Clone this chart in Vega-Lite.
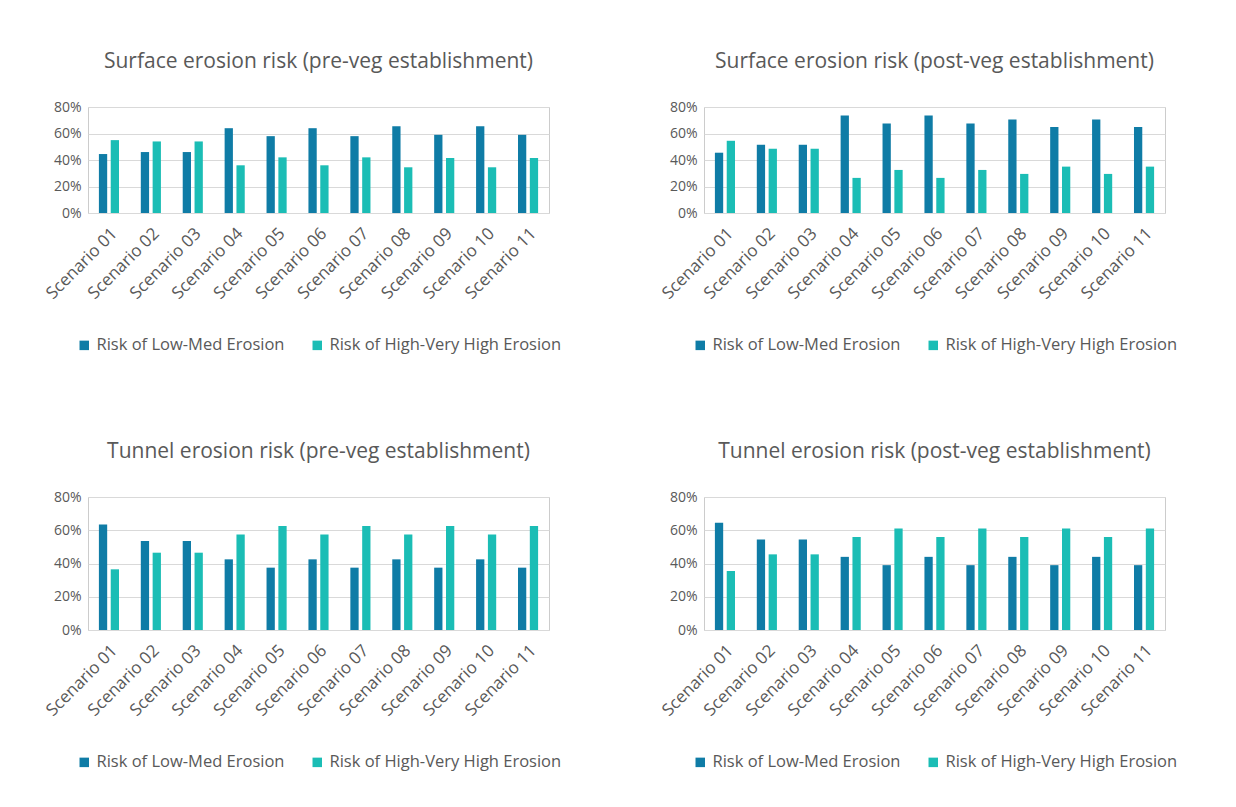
{
  "$schema": "https://vega.github.io/schema/vega-lite/v6.json",
  "background": "white",
  "padding": {"left": 42, "top": 50, "right": 0, "bottom": 0},
  "config": {
    "font": "Open Sans",
    "view": {"stroke": "#cccccc", "strokeWidth": 1},
    "axis": {"labelColor": "#595959", "labelFontSize": 14, "ticks": false, "domain": false, "title": null, "gridColor": "#d9d9d9", "gridWidth": 1},
    "title": {"fontSize": 21, "fontWeight": "normal", "color": "#595959", "offset": 28},
    "legend": {"labelColor": "#595959", "labelFontSize": 16.5, "symbolType": "square", "symbolSize": 90, "symbolStrokeWidth": 0, "columnPadding": 24, "labelLimit": 400, "layout": {"bottom": {"anchor": "middle"}}}
  },
  "datasets": {
    "d": [
      {"panel": "SP", "scenario": "Scenario 01", "series": "Risk of Low-Med Erosion", "value": 0.445},
      {"panel": "SP", "scenario": "Scenario 02", "series": "Risk of Low-Med Erosion", "value": 0.46},
      {"panel": "SP", "scenario": "Scenario 03", "series": "Risk of Low-Med Erosion", "value": 0.46},
      {"panel": "SP", "scenario": "Scenario 04", "series": "Risk of Low-Med Erosion", "value": 0.64},
      {"panel": "SP", "scenario": "Scenario 05", "series": "Risk of Low-Med Erosion", "value": 0.58},
      {"panel": "SP", "scenario": "Scenario 06", "series": "Risk of Low-Med Erosion", "value": 0.64},
      {"panel": "SP", "scenario": "Scenario 07", "series": "Risk of Low-Med Erosion", "value": 0.58},
      {"panel": "SP", "scenario": "Scenario 08", "series": "Risk of Low-Med Erosion", "value": 0.655},
      {"panel": "SP", "scenario": "Scenario 09", "series": "Risk of Low-Med Erosion", "value": 0.59},
      {"panel": "SP", "scenario": "Scenario 10", "series": "Risk of Low-Med Erosion", "value": 0.655},
      {"panel": "SP", "scenario": "Scenario 11", "series": "Risk of Low-Med Erosion", "value": 0.59},
      {"panel": "SP", "scenario": "Scenario 01", "series": "Risk of High-Very High Erosion", "value": 0.55},
      {"panel": "SP", "scenario": "Scenario 02", "series": "Risk of High-Very High Erosion", "value": 0.54},
      {"panel": "SP", "scenario": "Scenario 03", "series": "Risk of High-Very High Erosion", "value": 0.54},
      {"panel": "SP", "scenario": "Scenario 04", "series": "Risk of High-Very High Erosion", "value": 0.36},
      {"panel": "SP", "scenario": "Scenario 05", "series": "Risk of High-Very High Erosion", "value": 0.42},
      {"panel": "SP", "scenario": "Scenario 06", "series": "Risk of High-Very High Erosion", "value": 0.36},
      {"panel": "SP", "scenario": "Scenario 07", "series": "Risk of High-Very High Erosion", "value": 0.42},
      {"panel": "SP", "scenario": "Scenario 08", "series": "Risk of High-Very High Erosion", "value": 0.345},
      {"panel": "SP", "scenario": "Scenario 09", "series": "Risk of High-Very High Erosion", "value": 0.415},
      {"panel": "SP", "scenario": "Scenario 10", "series": "Risk of High-Very High Erosion", "value": 0.345},
      {"panel": "SP", "scenario": "Scenario 11", "series": "Risk of High-Very High Erosion", "value": 0.415},
      {"panel": "SQ", "scenario": "Scenario 01", "series": "Risk of Low-Med Erosion", "value": 0.455},
      {"panel": "SQ", "scenario": "Scenario 02", "series": "Risk of Low-Med Erosion", "value": 0.515},
      {"panel": "SQ", "scenario": "Scenario 03", "series": "Risk of Low-Med Erosion", "value": 0.515},
      {"panel": "SQ", "scenario": "Scenario 04", "series": "Risk of Low-Med Erosion", "value": 0.735},
      {"panel": "SQ", "scenario": "Scenario 05", "series": "Risk of Low-Med Erosion", "value": 0.675},
      {"panel": "SQ", "scenario": "Scenario 06", "series": "Risk of Low-Med Erosion", "value": 0.735},
      {"panel": "SQ", "scenario": "Scenario 07", "series": "Risk of Low-Med Erosion", "value": 0.675},
      {"panel": "SQ", "scenario": "Scenario 08", "series": "Risk of Low-Med Erosion", "value": 0.705},
      {"panel": "SQ", "scenario": "Scenario 09", "series": "Risk of Low-Med Erosion", "value": 0.65},
      {"panel": "SQ", "scenario": "Scenario 10", "series": "Risk of Low-Med Erosion", "value": 0.705},
      {"panel": "SQ", "scenario": "Scenario 11", "series": "Risk of Low-Med Erosion", "value": 0.65},
      {"panel": "SQ", "scenario": "Scenario 01", "series": "Risk of High-Very High Erosion", "value": 0.545},
      {"panel": "SQ", "scenario": "Scenario 02", "series": "Risk of High-Very High Erosion", "value": 0.485},
      {"panel": "SQ", "scenario": "Scenario 03", "series": "Risk of High-Very High Erosion", "value": 0.485},
      {"panel": "SQ", "scenario": "Scenario 04", "series": "Risk of High-Very High Erosion", "value": 0.265},
      {"panel": "SQ", "scenario": "Scenario 05", "series": "Risk of High-Very High Erosion", "value": 0.325},
      {"panel": "SQ", "scenario": "Scenario 06", "series": "Risk of High-Very High Erosion", "value": 0.265},
      {"panel": "SQ", "scenario": "Scenario 07", "series": "Risk of High-Very High Erosion", "value": 0.325},
      {"panel": "SQ", "scenario": "Scenario 08", "series": "Risk of High-Very High Erosion", "value": 0.295},
      {"panel": "SQ", "scenario": "Scenario 09", "series": "Risk of High-Very High Erosion", "value": 0.35},
      {"panel": "SQ", "scenario": "Scenario 10", "series": "Risk of High-Very High Erosion", "value": 0.295},
      {"panel": "SQ", "scenario": "Scenario 11", "series": "Risk of High-Very High Erosion", "value": 0.35},
      {"panel": "TP", "scenario": "Scenario 01", "series": "Risk of Low-Med Erosion", "value": 0.635},
      {"panel": "TP", "scenario": "Scenario 02", "series": "Risk of Low-Med Erosion", "value": 0.535},
      {"panel": "TP", "scenario": "Scenario 03", "series": "Risk of Low-Med Erosion", "value": 0.535},
      {"panel": "TP", "scenario": "Scenario 04", "series": "Risk of Low-Med Erosion", "value": 0.425},
      {"panel": "TP", "scenario": "Scenario 05", "series": "Risk of Low-Med Erosion", "value": 0.375},
      {"panel": "TP", "scenario": "Scenario 06", "series": "Risk of Low-Med Erosion", "value": 0.425},
      {"panel": "TP", "scenario": "Scenario 07", "series": "Risk of Low-Med Erosion", "value": 0.375},
      {"panel": "TP", "scenario": "Scenario 08", "series": "Risk of Low-Med Erosion", "value": 0.425},
      {"panel": "TP", "scenario": "Scenario 09", "series": "Risk of Low-Med Erosion", "value": 0.375},
      {"panel": "TP", "scenario": "Scenario 10", "series": "Risk of Low-Med Erosion", "value": 0.425},
      {"panel": "TP", "scenario": "Scenario 11", "series": "Risk of Low-Med Erosion", "value": 0.375},
      {"panel": "TP", "scenario": "Scenario 01", "series": "Risk of High-Very High Erosion", "value": 0.365},
      {"panel": "TP", "scenario": "Scenario 02", "series": "Risk of High-Very High Erosion", "value": 0.465},
      {"panel": "TP", "scenario": "Scenario 03", "series": "Risk of High-Very High Erosion", "value": 0.465},
      {"panel": "TP", "scenario": "Scenario 04", "series": "Risk of High-Very High Erosion", "value": 0.575},
      {"panel": "TP", "scenario": "Scenario 05", "series": "Risk of High-Very High Erosion", "value": 0.625},
      {"panel": "TP", "scenario": "Scenario 06", "series": "Risk of High-Very High Erosion", "value": 0.575},
      {"panel": "TP", "scenario": "Scenario 07", "series": "Risk of High-Very High Erosion", "value": 0.625},
      {"panel": "TP", "scenario": "Scenario 08", "series": "Risk of High-Very High Erosion", "value": 0.575},
      {"panel": "TP", "scenario": "Scenario 09", "series": "Risk of High-Very High Erosion", "value": 0.625},
      {"panel": "TP", "scenario": "Scenario 10", "series": "Risk of High-Very High Erosion", "value": 0.575},
      {"panel": "TP", "scenario": "Scenario 11", "series": "Risk of High-Very High Erosion", "value": 0.625},
      {"panel": "TQ", "scenario": "Scenario 01", "series": "Risk of Low-Med Erosion", "value": 0.645},
      {"panel": "TQ", "scenario": "Scenario 02", "series": "Risk of Low-Med Erosion", "value": 0.545},
      {"panel": "TQ", "scenario": "Scenario 03", "series": "Risk of Low-Med Erosion", "value": 0.545},
      {"panel": "TQ", "scenario": "Scenario 04", "series": "Risk of Low-Med Erosion", "value": 0.44},
      {"panel": "TQ", "scenario": "Scenario 05", "series": "Risk of Low-Med Erosion", "value": 0.39},
      {"panel": "TQ", "scenario": "Scenario 06", "series": "Risk of Low-Med Erosion", "value": 0.44},
      {"panel": "TQ", "scenario": "Scenario 07", "series": "Risk of Low-Med Erosion", "value": 0.39},
      {"panel": "TQ", "scenario": "Scenario 08", "series": "Risk of Low-Med Erosion", "value": 0.44},
      {"panel": "TQ", "scenario": "Scenario 09", "series": "Risk of Low-Med Erosion", "value": 0.39},
      {"panel": "TQ", "scenario": "Scenario 10", "series": "Risk of Low-Med Erosion", "value": 0.44},
      {"panel": "TQ", "scenario": "Scenario 11", "series": "Risk of Low-Med Erosion", "value": 0.39},
      {"panel": "TQ", "scenario": "Scenario 01", "series": "Risk of High-Very High Erosion", "value": 0.355},
      {"panel": "TQ", "scenario": "Scenario 02", "series": "Risk of High-Very High Erosion", "value": 0.455},
      {"panel": "TQ", "scenario": "Scenario 03", "series": "Risk of High-Very High Erosion", "value": 0.455},
      {"panel": "TQ", "scenario": "Scenario 04", "series": "Risk of High-Very High Erosion", "value": 0.56},
      {"panel": "TQ", "scenario": "Scenario 05", "series": "Risk of High-Very High Erosion", "value": 0.61},
      {"panel": "TQ", "scenario": "Scenario 06", "series": "Risk of High-Very High Erosion", "value": 0.56},
      {"panel": "TQ", "scenario": "Scenario 07", "series": "Risk of High-Very High Erosion", "value": 0.61},
      {"panel": "TQ", "scenario": "Scenario 08", "series": "Risk of High-Very High Erosion", "value": 0.56},
      {"panel": "TQ", "scenario": "Scenario 09", "series": "Risk of High-Very High Erosion", "value": 0.61},
      {"panel": "TQ", "scenario": "Scenario 10", "series": "Risk of High-Very High Erosion", "value": 0.56},
      {"panel": "TQ", "scenario": "Scenario 11", "series": "Risk of High-Very High Erosion", "value": 0.61}
    ]
  },
  "data": {"name": "d"},
  "spacing": 85,
  "resolve": {"scale": {"color": "independent"}, "legend": {"color": "independent"}},
  "vconcat": [
    {
      "spacing": 95,
      "resolve": {"scale": {"color": "independent"}, "legend": {"color": "independent"}},
      "hconcat": [
        {
          "title": "Surface erosion risk (pre-veg establishment)",
          "width": 461, "height": 106,
          "transform": [{"filter": "datum.panel === 'SP'"}],
          "mark": {"type": "bar"},
          "encoding": {
            "x": {"field": "scenario", "type": "nominal", "scale": {"paddingInner": 0.52, "paddingOuter": 0.26}, "axis": {"labelAngle": -45, "labelPadding": 12, "labelFontSize": 17}},
            "xOffset": {"field": "series", "type": "nominal", "sort": ["Risk of Low-Med Erosion", "Risk of High-Very High Erosion"], "scale": {"paddingInner": 0.3}},
            "y": {"field": "value", "type": "quantitative", "scale": {"domain": [0, 0.8]}, "axis": {"format": ".0%", "values": [0, 0.2, 0.4, 0.6, 0.8], "labelPadding": 7}},
            "color": {"field": "series", "type": "nominal", "scale": {"domain": ["Risk of Low-Med Erosion", "Risk of High-Very High Erosion"], "range": ["#0f7ca6", "#1bbdb5"]}, "legend": {"title": null, "orient": "bottom", "direction": "horizontal", "offset": 35}}
          }
        },
        {
          "title": "Surface erosion risk (post-veg establishment)",
          "width": 461, "height": 106,
          "transform": [{"filter": "datum.panel === 'SQ'"}],
          "mark": {"type": "bar"},
          "encoding": {
            "x": {"field": "scenario", "type": "nominal", "scale": {"paddingInner": 0.52, "paddingOuter": 0.26}, "axis": {"labelAngle": -45, "labelPadding": 12, "labelFontSize": 17}},
            "xOffset": {"field": "series", "type": "nominal", "sort": ["Risk of Low-Med Erosion", "Risk of High-Very High Erosion"], "scale": {"paddingInner": 0.3}},
            "y": {"field": "value", "type": "quantitative", "scale": {"domain": [0, 0.8]}, "axis": {"format": ".0%", "values": [0, 0.2, 0.4, 0.6, 0.8], "labelPadding": 7}},
            "color": {"field": "series", "type": "nominal", "scale": {"domain": ["Risk of Low-Med Erosion", "Risk of High-Very High Erosion"], "range": ["#0f7ca6", "#1bbdb5"]}, "legend": {"title": null, "orient": "bottom", "direction": "horizontal", "offset": 35}}
          }
        }
      ]
    },
    {
      "spacing": 95,
      "resolve": {"scale": {"color": "independent"}, "legend": {"color": "independent"}},
      "hconcat": [
        {
          "title": "Tunnel erosion risk (pre-veg establishment)",
          "width": 461, "height": 133,
          "transform": [{"filter": "datum.panel === 'TP'"}],
          "mark": {"type": "bar"},
          "encoding": {
            "x": {"field": "scenario", "type": "nominal", "scale": {"paddingInner": 0.52, "paddingOuter": 0.26}, "axis": {"labelAngle": -45, "labelPadding": 12, "labelFontSize": 17}},
            "xOffset": {"field": "series", "type": "nominal", "sort": ["Risk of Low-Med Erosion", "Risk of High-Very High Erosion"], "scale": {"paddingInner": 0.3}},
            "y": {"field": "value", "type": "quantitative", "scale": {"domain": [0, 0.8]}, "axis": {"format": ".0%", "values": [0, 0.2, 0.4, 0.6, 0.8], "labelPadding": 7}},
            "color": {"field": "series", "type": "nominal", "scale": {"domain": ["Risk of Low-Med Erosion", "Risk of High-Very High Erosion"], "range": ["#0f7ca6", "#1bbdb5"]}, "legend": {"title": null, "orient": "bottom", "direction": "horizontal", "offset": 35}}
          }
        },
        {
          "title": "Tunnel erosion risk (post-veg establishment)",
          "width": 461, "height": 133,
          "transform": [{"filter": "datum.panel === 'TQ'"}],
          "mark": {"type": "bar"},
          "encoding": {
            "x": {"field": "scenario", "type": "nominal", "scale": {"paddingInner": 0.52, "paddingOuter": 0.26}, "axis": {"labelAngle": -45, "labelPadding": 12, "labelFontSize": 17}},
            "xOffset": {"field": "series", "type": "nominal", "sort": ["Risk of Low-Med Erosion", "Risk of High-Very High Erosion"], "scale": {"paddingInner": 0.3}},
            "y": {"field": "value", "type": "quantitative", "scale": {"domain": [0, 0.8]}, "axis": {"format": ".0%", "values": [0, 0.2, 0.4, 0.6, 0.8], "labelPadding": 7}},
            "color": {"field": "series", "type": "nominal", "scale": {"domain": ["Risk of Low-Med Erosion", "Risk of High-Very High Erosion"], "range": ["#0f7ca6", "#1bbdb5"]}, "legend": {"title": null, "orient": "bottom", "direction": "horizontal", "offset": 35}}
          }
        }
      ]
    }
  ]
}
